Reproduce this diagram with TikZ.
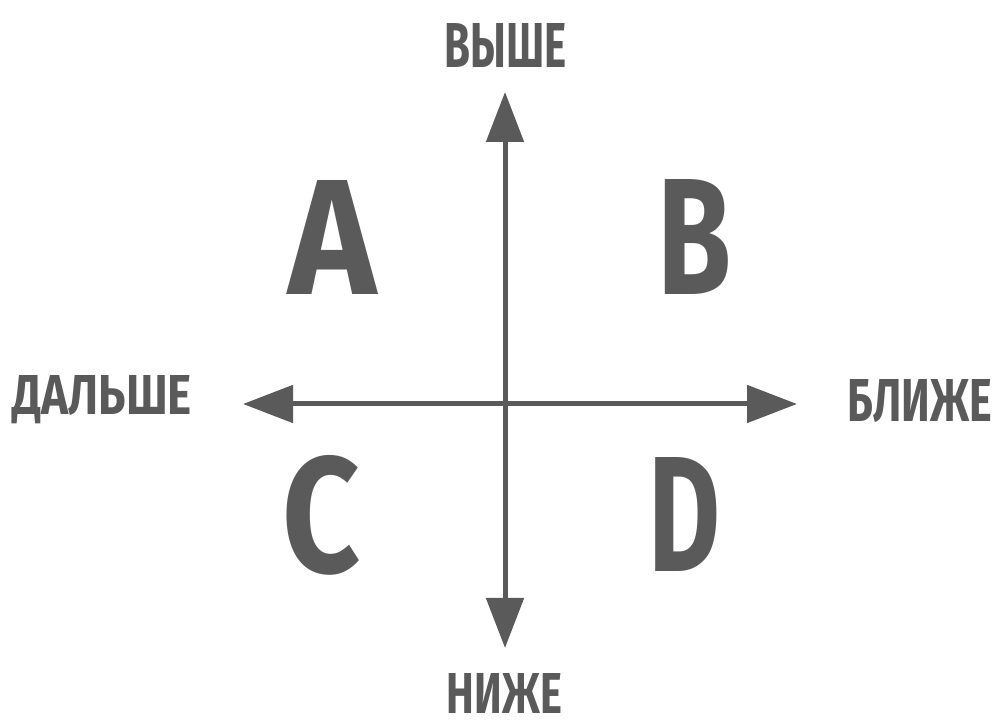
\documentclass[tikz,border=0pt]{standalone}
\usepackage{fontspec}
\setmainfont{Fira Sans}
\usepackage{graphicx}
\usetikzlibrary{arrows.meta}
\definecolor{ink}{HTML}{5A5A5A}
\newcommand{\fitlbl}[3]{\resizebox{#1pt}{#2pt}{\bfseries #3}}
\begin{document}
\begin{tikzpicture}[x=1pt,y=1pt,
  axis/.style={draw=ink,line width=5pt,{Triangle[length=50pt,width=37pt]}-{Triangle[length=50pt,width=37pt]}},
  lbl/.style={inner sep=0pt,outer sep=0pt,anchor=base,text=ink}]
\useasboundingbox (0,0) rectangle (999,722);
\coordinate (top) at (505,630);
\coordinate (bottom) at (505,74);
\coordinate (left) at (243,318);
\coordinate (right) at (797,318);
\draw[axis] (bottom) -- (top);
\draw[axis] (left) -- (right);
\node[lbl] (up) at (506,654) {\fitlbl{122}{44}{ВЫШЕ}};
\node[lbl] (down) at (504.5,8) {\fitlbl{115}{40}{НИЖЕ}};
\node[lbl] (far) at (102.5,307) {\fitlbl{179}{39}{ДАЛЬШЕ}};
\node[lbl] (near) at (920,300) {\fitlbl{144}{42}{БЛИЖЕ}};
\node[lbl] (qa) at (332.5,427) {\fitlbl{88}{114}{A}};
\node[lbl] (qb) at (695,427) {\fitlbl{74}{115}{B}};
\node[lbl] (qc) at (321.5,150) {\fitlbl{78}{117}{C}};
\node[lbl] (qd) at (685,150) {\fitlbl{72}{114}{D}};
\end{tikzpicture}
\end{document}
